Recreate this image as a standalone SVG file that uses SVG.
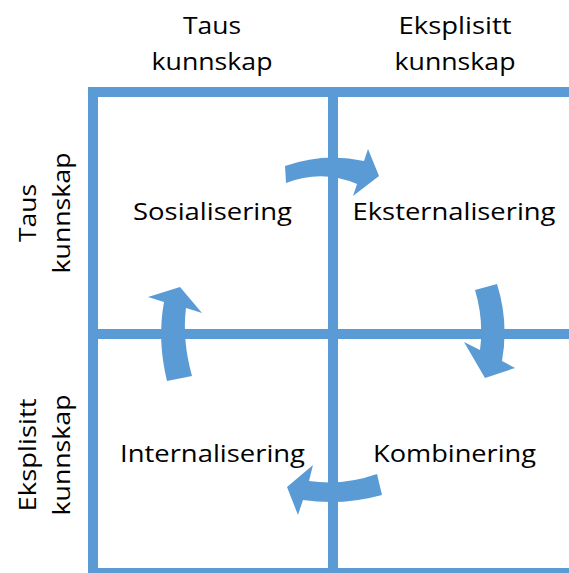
<svg xmlns="http://www.w3.org/2000/svg" width="569" height="573" viewBox="0 0 569 573">
<style>
.ln{fill:#5B9BD5}
.ar{fill:#5B9BD5}
.t{font-family:"Open Sans","Liberation Sans",sans-serif;font-size:24px;fill:#000;text-anchor:middle}
</style>
<rect width="569" height="573" fill="#fff"/>
<g id="grid">
<rect class="ln" x="88" y="87" width="10" height="486"/>
<rect class="ln" x="328" y="87" width="10" height="486"/>
<rect class="ln" x="88" y="87" width="481" height="10"/>
<rect class="ln" x="88" y="329" width="481" height="10"/>
<rect class="ln" x="88" y="568" width="481" height="5"/>
</g>
<g id="headers">
<text class="t" x="212" y="34" textLength="58" lengthAdjust="spacingAndGlyphs">Taus</text>
<text class="t" x="212" y="70" textLength="121" lengthAdjust="spacingAndGlyphs">kunnskap</text>
<text class="t" x="455" y="34" textLength="113" lengthAdjust="spacingAndGlyphs">Eksplisitt</text>
<text class="t" x="455" y="70" textLength="121" lengthAdjust="spacingAndGlyphs">kunnskap</text>
<text class="t" transform="translate(36,213) rotate(-90)" textLength="58" lengthAdjust="spacingAndGlyphs">Taus</text>
<text class="t" transform="translate(70,213) rotate(-90)" textLength="121" lengthAdjust="spacingAndGlyphs">kunnskap</text>
<text class="t" transform="translate(36,455) rotate(-90)" textLength="113" lengthAdjust="spacingAndGlyphs">Eksplisitt</text>
<text class="t" transform="translate(70,455) rotate(-90)" textLength="121" lengthAdjust="spacingAndGlyphs">kunnskap</text>
</g>
<g id="sosialisering"><text class="t" x="212.5" y="220" textLength="159" lengthAdjust="spacingAndGlyphs">Sosialisering</text></g>
<g id="eksternalisering"><text class="t" x="454" y="220" textLength="203" lengthAdjust="spacingAndGlyphs">Eksternalisering</text></g>
<g id="internalisering"><text class="t" x="212.5" y="462" textLength="185" lengthAdjust="spacingAndGlyphs">Internalisering</text></g>
<g id="kombinering"><text class="t" x="454.5" y="462" textLength="163" lengthAdjust="spacingAndGlyphs">Kombinering</text></g>
<g id="connectors">
<path class="ar" d="M285,166 Q325,152 364,161 L368,149 L379,176 L353,196 L357,184 Q322,169 286,183 Z"/>
<path class="ar" d="M475,290 Q484,320 480,350 L464,342 L485,378 L515,368 L502,361 Q509,322 497,284 Z"/>
<path class="ar" d="M377,474 Q343,486 309,481 L313,465 L287,487 L298,515 L303,500 Q342,506 382,495 Z"/>
<path class="ar" d="M167,381 Q157,340 164,302 L148,297 L180,287 L202,313 L186,308 Q182,340 192,376 Z"/>
</g>
</svg>
